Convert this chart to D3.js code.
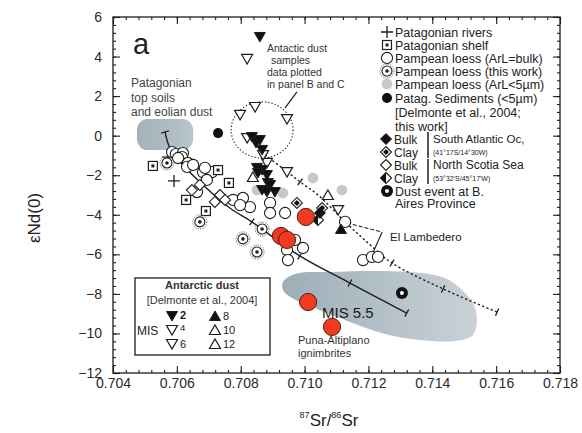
<!DOCTYPE html>
<html><head><meta charset="utf-8">
<script src="https://cdn.jsdelivr.net/npm/d3@7"></script>
<style>body{margin:0;background:#fff}svg{display:block;font-family:"Liberation Sans",Arial,sans-serif}</style>
</head><body><svg id="c" width="582" height="433"></svg>
<script>
// ---------- axis ticks ----------
const xTicks=[0.704,0.706,0.708,0.710,0.712,0.714,0.716,0.718];
const yTicks=[6,4,2,0,-2,-4,-6,-8,-10,-12];
// ---------- data (87Sr/86Sr, eNd(0)) ----------
const patRivers=[[0.70591,-2.29],[0.70572,-1.08]];
const patShelf=[[0.70525,-1.53],[0.70729,-1.74],[0.70763,-2.39],[0.70629,-3.25],[0.70691,-3.81]];
const loessBulk=[[0.70585,-0.83],[0.70597,-0.93],[0.70619,-0.88],[0.70616,-1.08],[0.70604,-1.13],[0.70635,-1.38],
 [0.70632,-1.58],[0.70651,-1.48],[0.70682,-1.84],[0.70710,-1.84],[0.70688,-1.63],[0.70694,-2.24],[0.70663,-2.85],
 [0.70776,-3.25],[0.70807,-3.15],[0.70829,-3.61],[0.70798,-3.51],[0.70892,-3.40],[0.70892,-3.91],[0.70939,-3.91],
 [0.70945,-5.78],[0.70995,-5.68],[0.70970,-5.27],[0.70948,-6.29],[0.71127,-4.36],[0.71183,-6.29],[0.71211,-6.13],[0.71230,-6.13]];
const loessThis=[[0.70569,-1.38],[0.70672,-4.36],[0.70867,-4.72],[0.70807,-5.22],[0.70851,-5.88]];
const loessFine=[[0.71026,-2.14],[0.71117,-2.75],[0.70932,-2.90],[0.70851,-2.75]];
const patSed=[[0.70729,0.13]];
const saBulk=[[0.71048,-3.91]];
const saClay=[[0.70976,-3.40],[0.71055,-3.66]];
const nsBulk=[[0.70647,-2.75],[0.70719,-3.35],[0.70735,-3.00],[0.70751,-3.25],[0.70672,-2.49]];
const nsClay=[[0.71042,-4.26]];
const dustEvent=[[0.71305,-7.95]];
const mis2=[[0.70860,4.99],[0.70835,-0.07],[0.70848,-0.37],[0.70860,-0.22],[0.70867,-0.72],[0.70851,-1.63],[0.70867,-1.74],
 [0.70854,-1.89],[0.70882,-1.99],[0.70885,-2.39],[0.70867,-2.75],[0.70882,-2.85],[0.70907,-2.85],[0.70892,-2.49]];
const mis4=[[0.70820,3.88],[0.70798,1.05],[0.70845,1.45],[0.70945,0.84],[0.70820,-0.12],[0.70945,-1.84],[0.70882,-1.38],[0.71105,-3.76]];
const mis6=[[0.70870,-0.98]];
const mis8=[[0.71114,-4.72]];
const mis10=[[0.71073,-3.00]];
const mis12=[[0.70838,-2.09]];
const redPts=[[0.71004,-4.11],[0.70926,-5.07],[0.70945,-5.27],[0.71011,-8.41],[0.71086,-9.67]];
// mixing curves
const solidLine=[[0.70563,0.19],[0.70578,-0.62],[0.70610,-1.33],[0.70672,-2.34],[0.70766,-3.66],[0.70835,-4.36],[0.70985,-6.08],[0.71142,-7.45],[0.71320,-8.97]];
const solidTickIdx=[0,3,5,6,7,8];
const dashLine=[[0.70876,-0.98],[0.70939,-1.74],[0.70986,-2.34],[0.71042,-3.00],[0.71127,-4.36],[0.71199,-5.43],[0.71274,-6.44],[0.71434,-7.75],[0.71603,-8.92]];
const dashTickIdx=[2,6,7,8];
const lambedero=[[0.71133,-4.42],[0.71243,-4.87],[0.71211,-6.03]];
// shaded fields
const patField={x0:0.70475,x1:0.70651,y0:-0.73,y1:0.84};
const punaField=[[0.709324,-7.40],[0.709700,-6.99],[0.710797,-6.89],[0.712362,-6.84],[0.713615,-6.94],[0.714398,-7.20],
 [0.714930,-7.80],[0.715306,-8.56],[0.715400,-9.42],[0.715244,-10.13],[0.714711,-10.38],[0.713615,-10.33],[0.712519,-10.03],
 [0.711423,-9.42],[0.710327,-8.71],[0.709607,-8.21],[0.709324,-7.80]];
const antCircle={cx:0.70867,cy:0.29,rx:0.00097,ry:1.42};
const antLeader=[[0.70939,1.40],[0.70976,2.21]];

const ink="#1e1e1e";
const svg=d3.select('#c');
const x=d3.scaleLinear().domain([0.704,0.718]).range([113,560]);
const y=d3.scaleLinear().domain([-12,6]).range([373,17]);
const defs=svg.append('defs');
const gr=defs.append('linearGradient').attr('id','gp').attr('x1','0').attr('x2','1').attr('y1','0').attr('y2','0');
gr.append('stop').attr('offset','0').attr('stop-color','#9eadb7');
gr.append('stop').attr('offset','1').attr('stop-color','#c9d2d7');
const gb=defs.append('linearGradient').attr('id','gb').attr('x1','0').attr('x2','1');
gb.append('stop').attr('offset','0').attr('stop-color','#a3b1ba');
gb.append('stop').attr('offset','1').attr('stop-color','#b9c4cb');

// fields
svg.append('rect').attr('x',x(patField.x0)).attr('y',y(patField.y1))
 .attr('width',x(patField.x1)-x(patField.x0)).attr('height',y(patField.y0)-y(patField.y1))
 .attr('rx',11).attr('fill','url(#gb)');
svg.append('path').datum(punaField)
 .attr('d',d3.line().x(d=>x(d[0])).y(d=>y(d[1])).curve(d3.curveCatmullRomClosed))
 .attr('fill','url(#gp)');

// axes
const xMinor=d3.range(0,36).map(i=>0.704+i*0.0004);
const yMinor=d3.range(0,46).map(i=>-12+i*0.4);
function ax(gen,tr){const g=svg.append('g').attr('transform',tr).call(gen);g.select('.domain').remove();
 g.selectAll('line').attr('stroke',ink).attr('stroke-width',1.1);return g;}
ax(d3.axisBottom(x).tickValues(xMinor).tickSize(-3).tickFormat(''),'translate(0,373)');
ax(d3.axisTop(x).tickValues(xMinor).tickSize(-3).tickFormat(''),'translate(0,17)');
ax(d3.axisLeft(y).tickValues(yMinor).tickSize(-3).tickFormat(''),'translate(113,0)');
ax(d3.axisRight(y).tickValues(yMinor).tickSize(-3).tickFormat(''),'translate(560,0)');
const gx=ax(d3.axisBottom(x).tickValues(xTicks).tickSize(-7).tickPadding(5).tickFormat(d3.format('.3f')),'translate(0,373)');
ax(d3.axisTop(x).tickValues(xTicks).tickSize(-7).tickFormat(''),'translate(0,17)');
const gy=ax(d3.axisLeft(y).tickValues(yTicks).tickSize(-7).tickPadding(11).tickFormat(d3.format('d')),'translate(113,0)');
ax(d3.axisRight(y).tickValues(yTicks).tickSize(-7).tickFormat(''),'translate(560,0)');
[gx,gy].forEach(g=>g.selectAll('text').attr('font-size',14).attr('fill','#2a2a2a').attr('font-family','"Liberation Sans",Arial,sans-serif'));
svg.append('rect').attr('x',113).attr('y',17).attr('width',447).attr('height',356).attr('fill','none').attr('stroke',ink).attr('stroke-width',1.3);

// axis titles
svg.append('text').attr('transform','translate(40,218) rotate(-90)').attr('text-anchor','middle')
 .attr('font-size',17).attr('fill','#222').text('εNd(0)');
const xt=svg.append('text').attr('x',329).attr('y',426).attr('text-anchor','middle').attr('font-size',17).attr('fill','#222');
xt.append('tspan').attr('font-size',9).attr('dy',-8).text('87');
xt.append('tspan').attr('dy',8).text('Sr/');
xt.append('tspan').attr('font-size',9).attr('dy',-8).text('86');
xt.append('tspan').attr('dy',8).text('Sr');

// dotted circle + leader
svg.append('ellipse').attr('cx',x(antCircle.cx)).attr('cy',y(antCircle.cy))
 .attr('rx',x(antCircle.cx+antCircle.rx)-x(antCircle.cx)).attr('ry',y(antCircle.cy-antCircle.ry)-y(antCircle.cy))
 .attr('fill','none').attr('stroke','#333').attr('stroke-width',1.2).attr('stroke-dasharray','1.3,2');
const ln=d3.line().x(d=>x(d[0])).y(d=>y(d[1]));
svg.append('path').attr('d',ln(antLeader)).attr('stroke',ink).attr('stroke-width',1.2).attr('fill','none');

// mixing lines
function drawLine(pts,dash,tickIdx){
 svg.append('path').attr('d',ln.curve(d3.curveCatmullRom)(pts)).attr('fill','none').attr('stroke',ink)
  .attr('stroke-width',1.4).attr('stroke-dasharray',dash);
 ln.curve(d3.curveLinear);
 tickIdx.forEach(i=>{const a=pts[Math.max(0,i-1)],b=pts[Math.min(pts.length-1,i+1)];
  let dx=x(b[0])-x(a[0]),dy=y(b[1])-y(a[1]);const L=Math.hypot(dx,dy);dx/=L;dy/=L;
  const px=x(pts[i][0]),py=y(pts[i][1]);
  svg.append('line').attr('x1',px+dy*4).attr('y1',py-dx*4).attr('x2',px-dy*4).attr('y2',py+dx*4)
   .attr('stroke',ink).attr('stroke-width',1.3);});
}
drawLine(solidLine,null,solidTickIdx);
drawLine(dashLine,'2.2,2.4',dashTickIdx);
// El Lambedero leader
svg.append('path').attr('d',ln(lambedero.slice(0,2))).attr('stroke',ink).attr('stroke-width',1.1).attr('stroke-dasharray','4,2').attr('fill','none');
svg.append('path').attr('d',ln(lambedero.slice(1))).attr('stroke',ink).attr('stroke-width',1.1).attr('fill','none');

// symbols
const sym={
 cross:g=>g.append('path').attr('d','M-6,0H6M0,-6V6').attr('stroke',ink).attr('stroke-width',1.3),
 box:g=>{g.append('rect').attr('x',-4.5).attr('y',-4.5).attr('width',9).attr('height',9).attr('fill','#fff').attr('stroke',ink).attr('stroke-width',1.2);
   g.append('rect').attr('x',-1.5).attr('y',-1.5).attr('width',3).attr('height',3).attr('fill',ink);},
 open:g=>g.append('circle').attr('r',5.6).attr('fill','#fff').attr('stroke',ink).attr('stroke-width',1.1),
 dot:g=>{g.append('circle').attr('r',7).attr('fill','none').attr('stroke','#555').attr('stroke-width',0.9).attr('stroke-dasharray','1.2,1.2');
   g.append('circle').attr('r',5).attr('fill','#fff').attr('stroke',ink).attr('stroke-width',1.1);
   g.append('circle').attr('r',1.8).attr('fill',ink);},
 grey:g=>g.append('circle').attr('r',5.4).attr('fill','#c3c9cc'),
 black:g=>g.append('circle').attr('r',5).attr('fill','#111'),
 diaF:g=>g.append('path').attr('d','M0,-5.5L5.5,0L0,5.5L-5.5,0Z').attr('fill','#111').attr('stroke',ink),
 diaO:g=>g.append('path').attr('d','M0,-5.5L5.5,0L0,5.5L-5.5,0Z').attr('fill','#fff').attr('stroke',ink).attr('stroke-width',1.1),
 diaSC:g=>{g.append('path').attr('d','M0,-5.5L5.5,0L0,5.5L-5.5,0Z').attr('fill','#fff').attr('stroke',ink).attr('stroke-width',1.1);
   g.append('path').attr('d','M0,-3L3,0L0,3L-3,0Z').attr('fill','#111');},
 diaNC:g=>{g.append('path').attr('d','M0,-5.5L5.5,0L0,5.5L-5.5,0Z').attr('fill','#fff').attr('stroke',ink).attr('stroke-width',1.1);
   g.append('path').attr('d','M0,-5.5L0,5.5L-5.5,0Z').attr('fill','#111');},
 event:g=>{g.append('circle').attr('r',6).attr('fill','#111');g.append('circle').attr('r',2).attr('fill','#fff');},
 tdF:g=>g.append('path').attr('d','M-5.5,-4.5L5.5,-4.5L0,5Z').attr('fill','#111').attr('stroke',ink),
 tdO:g=>g.append('path').attr('d','M-5.5,-4.5L5.5,-4.5L0,5Z').attr('fill','#fff').attr('stroke',ink).attr('stroke-width',1.2),
 tuF:g=>g.append('path').attr('d','M-5.5,4.5L5.5,4.5L0,-5Z').attr('fill','#111').attr('stroke',ink),
 tuO:g=>g.append('path').attr('d','M-5.5,4.5L5.5,4.5L0,-5Z').attr('fill','#fff').attr('stroke',ink).attr('stroke-width',1.2),
 red:g=>g.append('circle').attr('r',8.6).attr('fill','#ee3b22').attr('stroke','#5a1d12').attr('stroke-width',1)
};
function place(data,t){data.forEach(d=>sym[t](svg.append('g').attr('transform',`translate(${x(d[0])},${y(d[1])})`)));}
function at(px,py,t){sym[t](svg.append('g').attr('transform',`translate(${px},${py})`));}
place(loessFine,'grey');
place(patRivers,'cross');
place(loessBulk,'open');
place(patShelf,'box');
place(loessThis,'dot');
place(nsBulk,'diaO');
place(nsClay,'diaNC');
place(saClay,'diaSC');
place(saBulk,'diaF');
place(mis4,'tdO');place(mis6,'tdO');
place(mis2,'tdF');
place(mis10,'tuO');place(mis12,'tuO');place(mis8,'tuF');
place(patSed,'black');
place(dustEvent,'event');
place(redPts,'red');

// text helper
function txt(px,py,s,size,opt={}){const t=svg.append('text').attr('x',px).attr('y',py).attr('font-size',size)
 .attr('fill',opt.fill||'#222').attr('text-anchor',opt.anchor||'start').text(s);if(opt.weight)t.attr('font-weight',opt.weight);return t;}
txt(133,54,'a',29);
['Patagonian','top soils','and eolian dust'].forEach((s,i)=>txt(131,87+i*14.5,s,12,{fill:'#444'}));
[['Antactic dust',267],['samples',271],['data plotted',267],['in panel B and C',267]].forEach((s,i)=>txt(s[1],52+i*12,s[0],10.5,{fill:'#333'}));
txt(390,241,'El Lambedero',11.5);
txt(322,318,'MIS 5.5',15,{fill:'#1a1a1a'});
txt(298,344,'Puna-Altiplano',11,{fill:'#333'});
txt(298,357,'ignimbrites',11,{fill:'#333'});

// right legend
const legRows=[['cross','Patagonian rivers',32],['box','Patagonian shelf',45],['open','Pampean loess (ArL=bulk)',58],
 ['dot','Pampean loess (this work)',71],['grey','Pampean loess (ArL<5µm)',84],['black','Patag. Sediments (<5µm)',98],
 [null,'[Delmonte et al., 2004;',112],[null,'this work]',126]];
legRows.forEach(r=>{if(r[0])at(387,r[2],r[0]);txt(395,r[2]+4.5,r[1],12.5);});
const legRows2=[['diaF','Bulk',139],['diaSC','Clay',152],['diaO','Bulk',165],['diaNC','Clay',178]];
legRows2.forEach(r=>{at(386,r[2],r[0]);txt(394,r[2]+4.5,r[1],12);});
svg.append('line').attr('x1',428).attr('x2',428).attr('y1',132).attr('y2',158).attr('stroke',ink).attr('stroke-width',1.5);
svg.append('line').attr('x1',428).attr('x2',428).attr('y1',159).attr('y2',184).attr('stroke',ink).attr('stroke-width',1.5);
txt(433,143,'South Atlantic Oc,',11.5);
txt(433,155,'(41°17S/14°30W)',7);
txt(433,169,'North Scotia Sea',12);
txt(433,181,'(53°32\'S/45°17\'W)',7);
at(387,191,'event');
txt(395,195.5,'Dust event at B.',12.5);
txt(395,208,'Aires Province',12.5);

// Antarctic dust legend box
svg.append('rect').attr('x',135).attr('y',278).attr('width',135).attr('height',77).attr('fill','#fff').attr('stroke',ink).attr('stroke-width',1.3);
txt(202,289,'Antarctic dust',11,{anchor:'middle',weight:'bold',fill:'#333'});
txt(202,304,'[Delmonte et al., 2004]',11,{anchor:'middle',fill:'#333'});
txt(137,335,'MIS',12);
at(172,316,'tdF');txt(180,319,'2',11,{weight:'bold'});
at(172,330,'tdO');txt(180,331,'4',9.5);
at(172,344,'tdO');txt(180,348,'6',11);
at(215,316,'tuF');txt(223,320,'8',11);
at(215,330,'tuO');txt(223,334,'10',11);
at(215,344,'tuO');txt(223,348,'12',11);
</script></body></html>
